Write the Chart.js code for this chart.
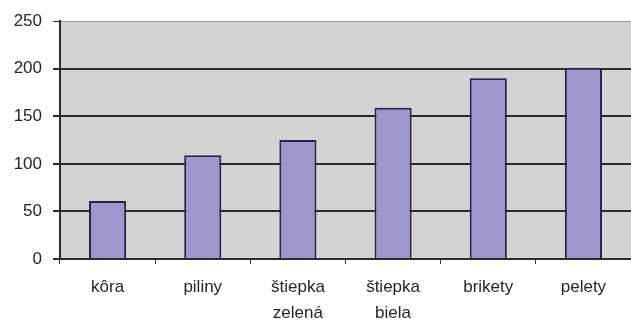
<!DOCTYPE html>
<html>
<head>
<meta charset="utf-8">
<script src="https://cdn.jsdelivr.net/npm/chart.js@4"></script>
<style>
  html, body { margin: 0; padding: 0; background: #ffffff; }
  #wrap { width: 631px; height: 322px; }
</style>
</head>
<body>
<div id="wrap"><canvas id="mycanvas"></canvas></div>
<script>
var kategorie = ["kôra", "piliny", ["štiepka", "zelená"], ["štiepka", "biela"], "brikety", "pelety"];
var hodnoty = [61, 109, 125, 159, 190, 201];
var yTicky = [0, 50, 100, 150, 200, 250];

// sive pozadie plochy grafu
var plochaPozadie = {
	id: 'plochaPozadie',
	beforeDraw: function(chart) {
		var a = chart.chartArea;
		var ctx = chart.ctx;
		ctx.save();
		ctx.fillStyle = '#d3d3d3';
		ctx.fillRect(a.left, a.top, a.right - a.left, a.bottom - a.top);
		ctx.restore();
	}
};

var chartdata = {
	labels: kategorie,
	datasets: [
		{
			data: hodnoty,
			backgroundColor: '#9c98cd',
			borderColor: '#2c1f4a',
			borderWidth: 2,
			borderSkipped: 'bottom',
			categoryPercentage: 1,
			barPercentage: 0.39
		}
	]
};

var ctx = document.getElementById('mycanvas');

var barGraph = new Chart(ctx, {
	type: 'bar',
	data: chartdata,
	plugins: [plochaPozadie],
	options: {
		responsive: true,
		maintainAspectRatio: false,
		animation: false,
		layout: { padding: { top: 14, right: 0, left: 0, bottom: 0 } },
		plugins: {
			legend: { display: false },
			tooltip: { enabled: false }
		},
		scales: {
			x: {
				offset: true,
				grid: {
					offset: true,
					drawOnChartArea: false,
					drawTicks: true,
					tickLength: 5,
					color: '#333333',
					lineWidth: 1
				},
				border: { color: '#2b2b2b', width: 2 },
				ticks: {
					color: '#262626',
					padding: 10,
					maxRotation: 0,
					autoSkip: false,
					font: { family: 'Liberation Sans, Arial, sans-serif', size: 17, lineHeight: 1.55 }
				},
				afterFit: function(scale) { scale.height = 63; }
			},
			y: {
				min: 0,
				max: 250,
				afterBuildTicks: function(scale) {
					scale.ticks = yTicky.map(function(v) { return { value: v }; });
				},
				grid: {
					color: function(c) { return c.tick && c.tick.value === 250 ? '#9a9a9a' : '#2b2b2b'; },
					lineWidth: function(c) { return c.tick && c.tick.value === 250 ? 1 : 2; },
					tickLength: 7,
					tickColor: '#2b2b2b'
				},
				border: { color: '#2b2b2b', width: 2 },
				ticks: {
					color: '#262626',
					padding: 11,
					font: { family: 'Liberation Sans, Arial, sans-serif', size: 17 }
				},
				afterFit: function(scale) { scale.width = 60; }
			}
		}
	}
});
</script>
</body>
</html>
